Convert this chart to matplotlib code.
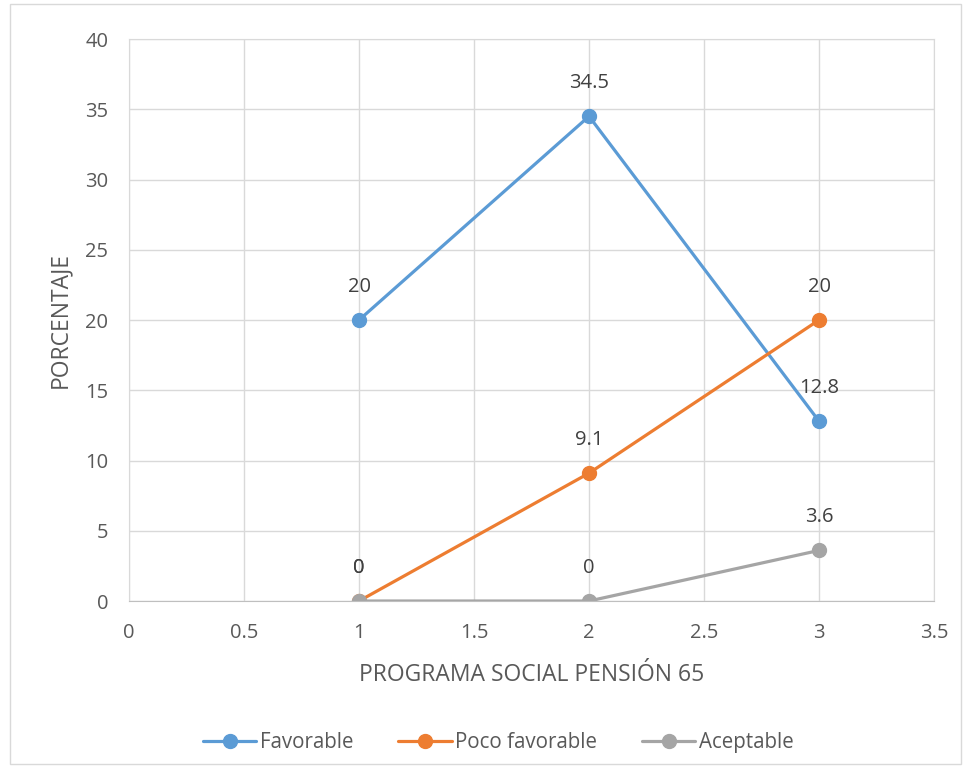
import matplotlib.pyplot as plt
from matplotlib.patches import Rectangle

plt.rcParams['font.family'] = ['Open Sans', 'DejaVu Sans']

x_vals = [1, 2, 3]
favorable = [20, 34.5, 12.8]
poco_favorable = [0, 9.1, 20]
aceptable = [0, 0, 3.6]

series = [
    ("Favorable", favorable, "#5B9BD5"),
    ("Poco favorable", poco_favorable, "#ED7D31"),
    ("Aceptable", aceptable, "#A5A5A5"),
]

fig = plt.figure(figsize=(9.71, 7.74), dpi=100)
ax = fig.add_axes([0.1329, 0.2235, 0.829, 0.7261])

for name, vals, color in series:
    ax.plot(x_vals, vals, color=color, lw=2.3, marker='o', ms=10,
            label=name, solid_capstyle='round')
    for xv, yv in zip(x_vals, vals):
        ax.annotate(f"{yv:g}", (xv, yv), xytext=(0, 24), textcoords='offset points',
                    ha='center', va='center', fontsize=14.5, color='#404040')

ax.set_xlim(0, 3.5)
ax.set_ylim(0, 40)
ax.set_xticks([0, 0.5, 1, 1.5, 2, 2.5, 3, 3.5])
ax.set_xticklabels(["0", "0.5", "1", "1.5", "2", "2.5", "3", "3.5"])
ax.set_yticks(range(0, 41, 5))
ax.grid(True, color='#D9D9D9', lw=1)
ax.set_axisbelow(True)
for side in ['top', 'right', 'left']:
    ax.spines[side].set_color('#D9D9D9')
ax.spines['bottom'].set_color('#BFBFBF')
ax.tick_params(length=0, labelsize=14.5, labelcolor='#595959')
ax.tick_params(axis='x', pad=16)
ax.tick_params(axis='y', pad=15)

ax.set_xlabel("PROGRAMA SOCIAL PENSIÓN 65", fontsize=16.5, color='#595959', labelpad=14)
ax.set_ylabel("PORCENTAJE", fontsize=16.5, color='#595959', labelpad=9)

fig.legend(loc='center', bbox_to_anchor=(0.513, 0.041), ncol=3, frameon=False,
           fontsize=14.8, labelcolor='#595959', handlelength=2.6, handletextpad=0.15,
           columnspacing=2.2)

fig.patches.append(Rectangle((10 / 971, 10 / 774), 951 / 971, 760 / 774,
                             transform=fig.transFigure, fill=False,
                             edgecolor='#D9D9D9', lw=1))

fig.savefig("out.png", dpi=100)
